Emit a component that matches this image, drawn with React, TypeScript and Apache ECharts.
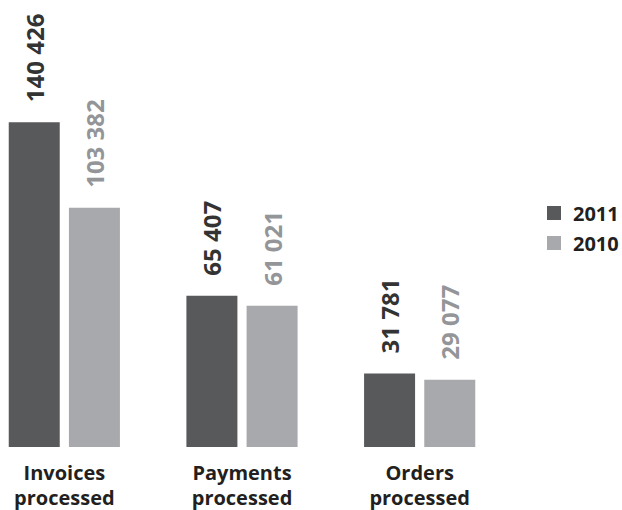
import React, { useEffect, useRef } from "react";
import * as echarts from "echarts";

const categories = ["Invoices\nprocessed", "Payments\nprocessed", "Orders\nprocessed"];
const seriesNames = ["2011", "2010"];
const values2011 = [140426, 65407, 31781];
const values2010 = [103382, 61021, 29077];

const FONT = "'Open Sans', 'Noto Sans', sans-serif";
const SHIFT = 25;

const fmt = (v: number) => {
  const s = String(Math.round(v));
  return s.replace(/\B(?=(\d{3})+(?!\d))/g, " ");
};

export default function App() {
  const ref = useRef<HTMLDivElement>(null);
  useEffect(() => {
    if (!ref.current) return;
    const chart = echarts.init(ref.current, undefined, { renderer: "svg" });
    const labelBase = {
      show: true,
      position: "top" as const,
      rotate: 90,
      align: "left" as const,
      verticalAlign: "middle" as const,
      distance: 20,
      fontFamily: FONT,
      fontWeight: "bold" as const,
      fontSize: 24,
      formatter: (p: any) => fmt(p.value),
    };
    chart.setOption({
      animation: false,
      backgroundColor: "#ffffff",
      grid: {
        left: 0.5,
        right: 113.5,
        top: 100,
        bottom: 63,
        containLabel: false,
        outerBoundsMode: "none",
      },
      legend: {
        orient: "vertical",
        left: 547 + SHIFT,
        top: 203,
        padding: 0,
        itemWidth: 14,
        itemHeight: 14,
        itemGap: 10,
        icon: "rect",
        data: seriesNames,
        textStyle: {
          fontFamily: FONT,
          fontWeight: "bold",
          fontSize: 20,
          color: "#231f20",
          padding: [0, 0, 0, 7],
        },
      },
      xAxis: {
        type: "category",
        data: categories,
        axisLine: { show: false },
        axisTick: { show: false },
        axisLabel: {
          margin: 13,
          fontFamily: FONT,
          fontWeight: "bold",
          fontSize: 20,
          lineHeight: 25,
          color: "#231f20",
          interval: 0,
        },
      },
      yAxis: {
        type: "value",
        min: 0,
        max: 150000,
        show: false,
        splitLine: { show: false },
      },
      series: [
        {
          name: seriesNames[0],
          type: "bar",
          data: values2011,
          barWidth: 51,
          barGap: "18%",
          itemStyle: { color: "#58595b" },
          label: { ...labelBase, color: "#333333" },
        },
        {
          name: seriesNames[1],
          type: "bar",
          data: values2010,
          barWidth: 51,
          barGap: "18%",
          itemStyle: { color: "#a7a9ac" },
          label: { ...labelBase, color: "#939598" },
        },
      ],
    });
    return () => chart.dispose();
  }, []);
  return (
    <div
      ref={ref}
      style={{ position: "absolute", left: -SHIFT, top: 0, width: 622 + SHIFT, height: 510, background: "#fff" }}
    />
  );
}
